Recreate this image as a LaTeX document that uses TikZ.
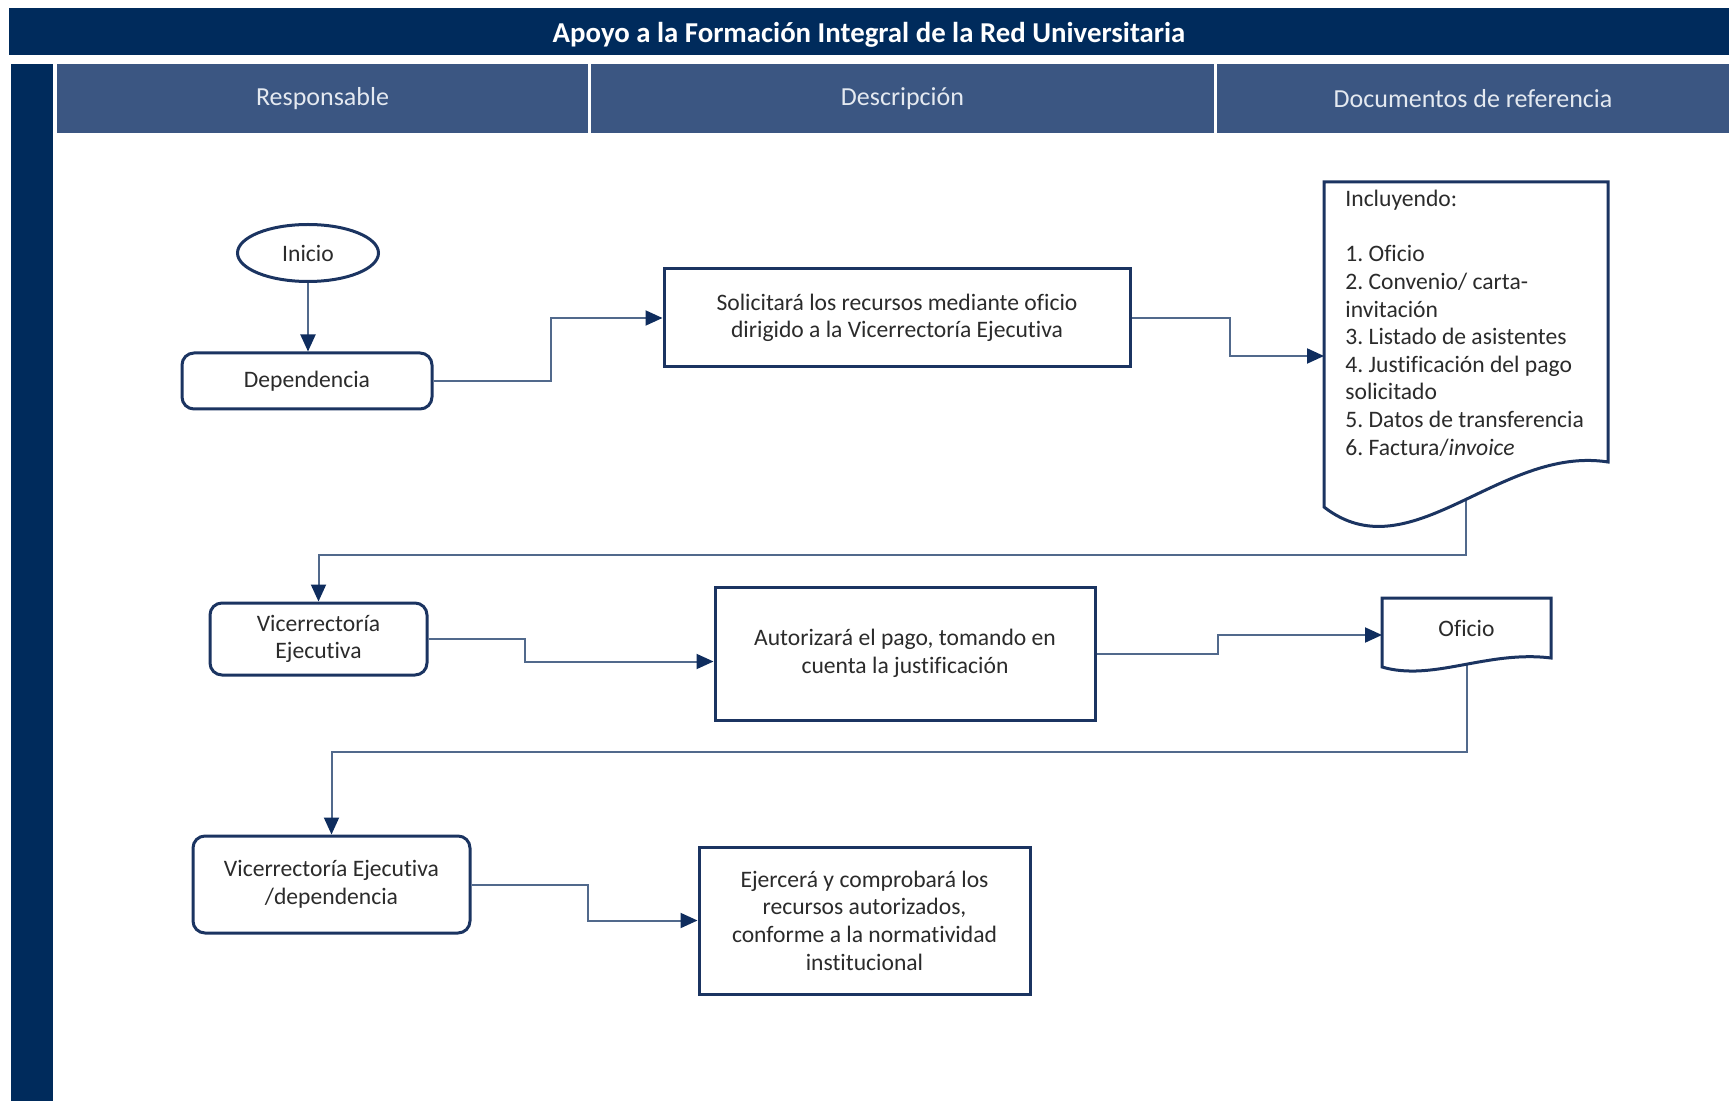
\documentclass[tikz,border=0pt]{standalone}
\usepackage{fontspec}
\setmainfont{Carlito}[Ligatures=NoCommon]
\usetikzlibrary{arrows.meta,shapes.geometric,calc}

\definecolor{navy}{HTML}{002B5C}
\definecolor{headblue}{HTML}{3B5682}
\definecolor{boxline}{HTML}{1B3461}
\definecolor{linkline}{HTML}{51698C}
\definecolor{tipcol}{HTML}{0F2D5E}
\definecolor{txt}{HTML}{2B2B2B}
\definecolor{headtxt}{HTML}{E4E9F0}

\pgfdeclarelayer{back}
\pgfsetlayers{back,main}

\tikzset{
  bodyfont/.style={font=\fontsize{11.8}{13.8}\selectfont},
  proc/.style={draw=boxline, line width=1.5pt, fill=white, inner sep=0pt,
    align=center, text=txt, bodyfont},
  role/.style={proc, rounded corners=6pt},
  startnode/.style={proc, ellipse},
  frame/.style={inner sep=0pt, outer sep=0pt},
  docline/.style={draw=boxline, line width=1.5pt, fill=white},
  doctext/.style={inner sep=0pt, align=left, text=txt, bodyfont},
  link/.style={draw=linkline, line width=1pt,
    -{Triangle[length=8.5pt,width=7.5pt,color=tipcol]}},
  titlebar/.style={fill=navy, inner sep=0pt, outer sep=0pt},
  titletext/.style={inner sep=0pt, text=white,
    font=\fontsize{14.4}{16}\selectfont\bfseries},
  colhead/.style={fill=headblue, inner sep=0pt, text=headtxt,
    font=\fontsize{13}{15}\selectfont},
}

\begin{document}
\begin{tikzpicture}[x=0.5pt,y=-0.5pt]
\useasboundingbox (0,0) rectangle (1729,1101);

% title bar, side band and column headings
\node[titlebar, minimum width=860pt, minimum height=23.5pt] (title) at (869,31.5) {};
\node[titletext] (titletxt) at ($(title.center)+(0,3)$)
  {Apoyo a la Formación Integral de la Red Universitaria};
\node[fill=navy, inner sep=0pt, minimum width=21pt, minimum height=518.5pt] (band) at (32,582.5) {};
\node[colhead, minimum width=265.5pt, minimum height=34.5pt] (hresp) at (322.5,98.5) {Responsable};
\node[colhead, minimum width=311.5pt, minimum height=34.5pt] (hdesc) at (902.5,98.5) {Descripción};
\node[colhead, minimum width=256pt, minimum height=34.5pt] (hdocs) at (1473,98.5) {Documentos de referencia};

% flow nodes
\node[startnode, minimum width=70.5pt, minimum height=28.5pt] (inicio) at (308,253) {Inicio};
\node[role, minimum width=125pt, minimum height=28pt] (dep) at (307,381) {Dependencia};
\node[proc, minimum width=233pt, minimum height=49pt] (sol) at (897,318)
  {Solicitará los recursos mediante oficio\\dirigido a la Vicerrectoría Ejecutiva};

% document with the list of requirements
\node[frame, minimum width=142pt, minimum height=174pt] (doc1) at (1466,356) {};
\path[docline] (doc1.north west) -- (doc1.north east)
  -- ($(doc1.north east)+(0,280)$)
  .. controls ($(doc1.north west)+(176,263)$) and ($(doc1.north west)+(86,392)$)
  .. ($(doc1.north west)+(0,325)$) -- cycle;
\node[doctext, anchor=north west] (doc1txt) at ($(doc1.north west)+(21,8)$)
  {Incluyendo:\\[13.8pt]
   1.~Oficio\\
   2.~Convenio/ carta-\\
   invitación\\
   3.~Listado de asistentes\\
   4.~Justificación del pago\\
   solicitado\\
   5.~Datos de transferencia\\
   6.~Factura/\textit{invoice}};

\node[role, minimum width=108.5pt, minimum height=36pt] (ve) at (318.5,639) {Vicerrectoría\\Ejecutiva};
\node[proc, minimum width=190pt, minimum height=66.5pt] (aut) at (905,653.5)
  {Autorizará el pago, tomando en\\cuenta la justificación};

% single document: oficio
\node[frame, minimum width=84.5pt, minimum height=37pt] (ofi) at (1466.5,635) {};
\path[docline] (ofi.north west) -- (ofi.north east)
  -- ($(ofi.north east)+(0,60)$)
  .. controls ($(ofi.north west)+(105,52)$) and ($(ofi.north west)+(51,84)$)
  .. ($(ofi.north west)+(0,69)$) -- cycle;
\node[doctext] (ofitxt) at ($(ofi.center)+(0,-7)$) {Oficio};

\node[role, minimum width=138.5pt, minimum height=48.5pt] (ved) at (331.5,884.5)
  {Vicerrectoría Ejecutiva\\/dependencia};
\node[proc, minimum width=165.5pt, minimum height=73.5pt] (eje) at (864.5,920.5)
  {Ejercerá y comprobará los\\recursos autorizados,\\conforme a la normatividad\\institucional};

% connectors
\begin{pgfonlayer}{back}
\draw[link] (inicio.south) -- (inicio.south |- dep.north);
\draw[link] (dep.east) -- ++(117,0) |- (sol.west);
\draw[link] (sol.east) -- ++(98,0) |- (doc1.west);
\draw[link] (doc1.center) -- ++(0,199) -| (ve.north);
\draw[link] (ve.east) -- ++(96,0) |- ([yshift=-4pt]aut.west);
\draw[link] (aut.east) -- ++(121,0) |- (ofi.west);
\draw[link] (ofi.center) -- ++(0,117) -| (ved.north);
\draw[link] (ved.east) -- ++(116,0) |- (eje.west);
\end{pgfonlayer}
\end{tikzpicture}
\end{document}
